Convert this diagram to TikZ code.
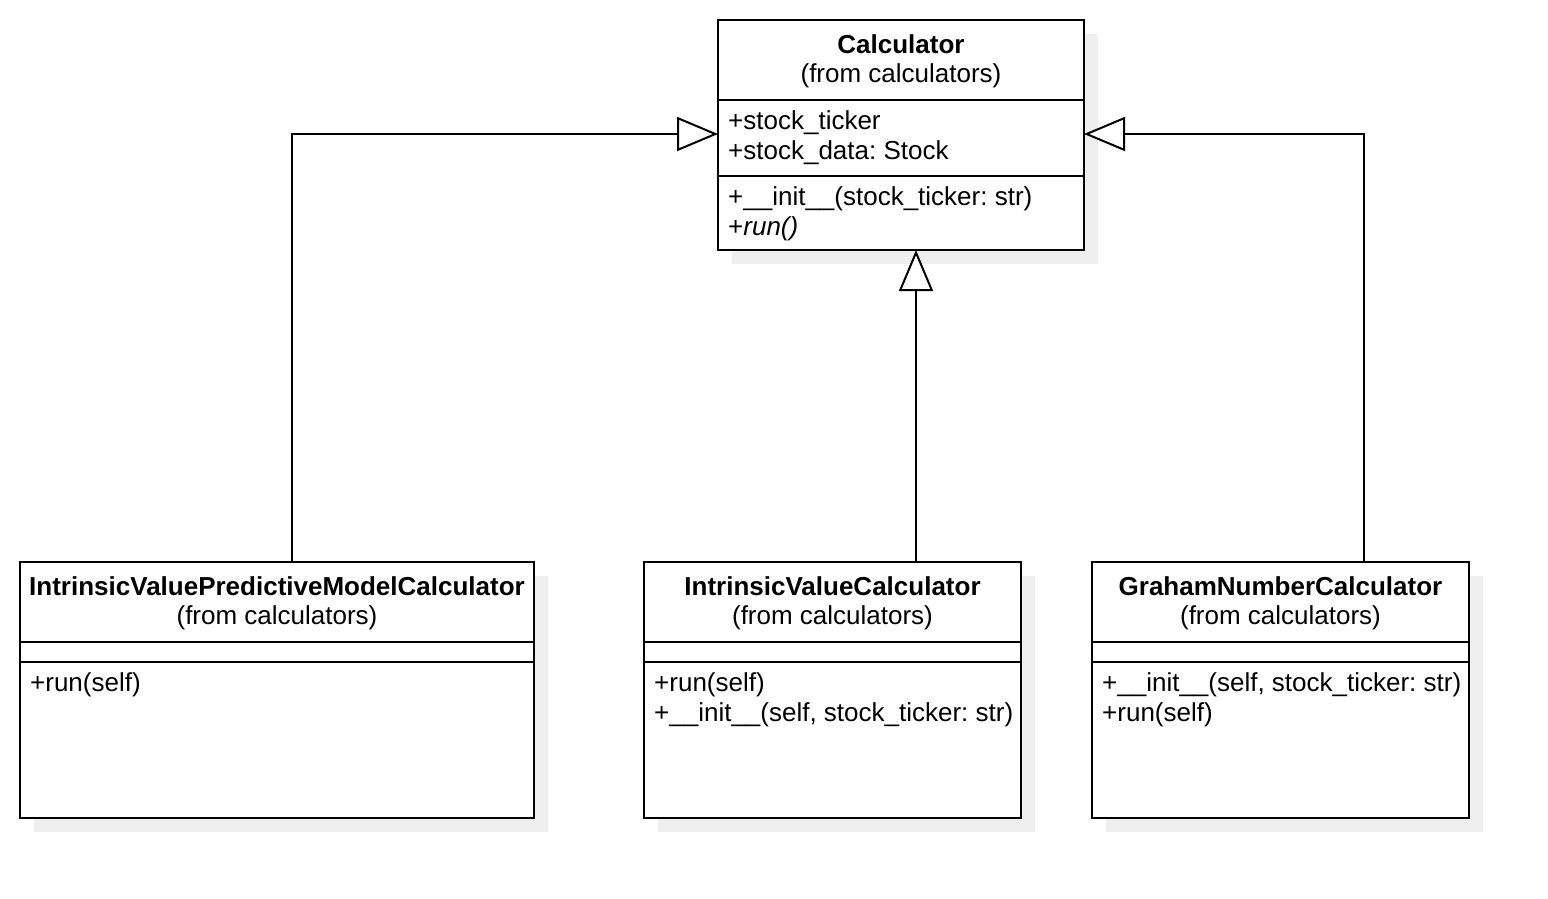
\documentclass[tikz,border=0pt]{standalone}
\usepackage{fontspec}
\setmainfont{Liberation Sans}
\usetikzlibrary{arrows.meta,shadows}
\definecolor{shadowgray}{HTML}{EFEFEF}
\frenchspacing
\begin{document}
\begin{tikzpicture}[x=1pt,y=-1pt,
  font=\fontsize{26}{30}\selectfont,
  classbox/.style={draw=black, line width=2pt, fill=white, anchor=north west,
    inner sep=0pt, outer sep=0pt,
    general shadow={fill=shadowgray, shadow xshift=14pt, shadow yshift=-14pt}},
  divider/.style={line width=2pt},
  ctitle/.style={anchor=base, inner sep=0pt, font=\fontsize{26}{30}\selectfont\bfseries},
  csub/.style={anchor=base, inner sep=0pt},
  member/.style={anchor=base west, inner sep=0pt},
  inherit/.style={line width=2pt, -{Triangle[open, length=41pt, width=34pt, fill=white]}}
]
\useasboundingbox (0,0) rectangle (1548,898);

% ---- boxes ----
\node[classbox, minimum width=366pt, minimum height=230pt] (calc) at (718,20) {};
\node[classbox, minimum width=514pt, minimum height=256pt] (ivpmc) at (20,562) {};
\node[classbox, minimum width=377pt, minimum height=256pt] (ivc) at (644,562) {};
\node[classbox, minimum width=377pt, minimum height=256pt] (gnc) at (1092,562) {};

% ---- Calculator ----
\draw[divider] ([yshift=-80pt]calc.north west) -- ([yshift=-80pt]calc.north east);
\draw[divider] ([yshift=-156pt]calc.north west) -- ([yshift=-156pt]calc.north east);
\node[ctitle] (calc-t) at ([yshift=-33pt]calc.north) {Calculator};
\node[csub] (calc-s) at ([yshift=-62pt]calc.north) {(from calculators)};
\node[member] (calc-a1) at ([xshift=10pt,yshift=-109pt]calc.north west) {+stock\_ticker};
\node[member] (calc-a2) at ([xshift=10pt,yshift=-139pt]calc.north west) {+stock\_data: Stock};
\node[member] (calc-m1) at ([xshift=10pt,yshift=-185pt]calc.north west) {+\_\_init\_\_(stock\_ticker: str)};
\node[member] (calc-m2) at ([xshift=10pt,yshift=-215pt]calc.north west) {+\textit{run()}};

% ---- IntrinsicValuePredictiveModelCalculator ----
\draw[divider] ([yshift=-80pt]ivpmc.north west) -- ([yshift=-80pt]ivpmc.north east);
\draw[divider] ([yshift=-100pt]ivpmc.north west) -- ([yshift=-100pt]ivpmc.north east);
\node[ctitle] (ivpmc-t) at ([yshift=-33pt]ivpmc.north) {IntrinsicValuePredictiveModelCalculator};
\node[csub] (ivpmc-s) at ([yshift=-62pt]ivpmc.north) {(from calculators)};
\node[member] (ivpmc-m1) at ([xshift=10pt,yshift=-129pt]ivpmc.north west) {+run(self)};

% ---- IntrinsicValueCalculator ----
\draw[divider] ([yshift=-80pt]ivc.north west) -- ([yshift=-80pt]ivc.north east);
\draw[divider] ([yshift=-100pt]ivc.north west) -- ([yshift=-100pt]ivc.north east);
\node[ctitle] (ivc-t) at ([yshift=-33pt]ivc.north) {IntrinsicValueCalculator};
\node[csub] (ivc-s) at ([yshift=-62pt]ivc.north) {(from calculators)};
\node[member] (ivc-m1) at ([xshift=10pt,yshift=-129pt]ivc.north west) {+run(self)};
\node[member] (ivc-m2) at ([xshift=10pt,yshift=-159pt]ivc.north west) {+\_\_init\_\_(self, stock\_ticker: str)};

% ---- GrahamNumberCalculator ----
\draw[divider] ([yshift=-80pt]gnc.north west) -- ([yshift=-80pt]gnc.north east);
\draw[divider] ([yshift=-100pt]gnc.north west) -- ([yshift=-100pt]gnc.north east);
\node[ctitle] (gnc-t) at ([yshift=-33pt]gnc.north) {GrahamNumberCalculator};
\node[csub] (gnc-s) at ([yshift=-62pt]gnc.north) {(from calculators)};
\node[member] (gnc-m1) at ([xshift=10pt,yshift=-129pt]gnc.north west) {+\_\_init\_\_(self, stock\_ticker: str)};
\node[member] (gnc-m2) at ([xshift=10pt,yshift=-159pt]gnc.north west) {+run(self)};

% ---- generalisation connectors ----
\coordinate (ivpmc-out) at ([xshift=15pt]ivpmc.north);
\coordinate (ivc-in) at ([xshift=15pt]calc.south);
\coordinate (gnc-out) at ([xshift=83.5pt]gnc.north);
\draw[inherit] (ivpmc-out) |- ([yshift=1pt]calc.west);
\draw[inherit] (ivc.north -| ivc-in) -- (ivc-in);
\draw[inherit] (gnc-out) |- ([yshift=1pt]calc.east);
\end{tikzpicture}
\end{document}
